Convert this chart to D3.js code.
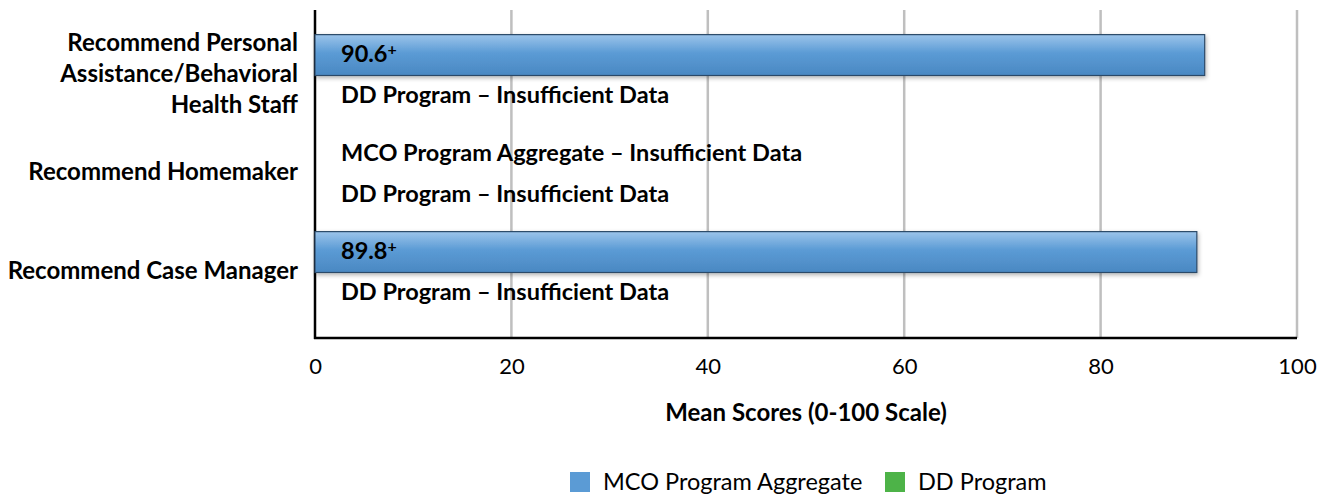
<!DOCTYPE html>
<html>
<head>
<meta charset="utf-8">
<script src="https://cdn.jsdelivr.net/npm/d3@7"></script>
<style>
  body { margin: 0; background: #fff; }
  text { font-family: Lato, "Open Sans", sans-serif; fill: #000; }
</style>
</head>
<body>
<script>
// chart data
var categories = ["Recommend Personal Assistance/Behavioral Health Staff", "Recommend Homemaker", "Recommend Case Manager"];
var categoryLines = [["Recommend Personal", "Assistance/Behavioral", "Health Staff"], ["Recommend Homemaker"], ["Recommend Case Manager"]];
var seriesNames = ["MCO Program Aggregate", "DD Program"];
var seriesColors = ["#5b9bd5", "#4db348"];
var mcoValues = [90.6, null, 89.8];
var ddValues = [null, null, null];
var xTicks = [0, 20, 40, 60, 80, 100];
var xTitle = "Mean Scores (0-100 Scale)";

var drawChart = function() {
  var width = 1328, height = 495;
  var plotLeft = 315, plotRight = 1297, plotTop = 10, plotBottom = 338;

  var svg = d3.select("body").append("svg")
    .attr("width", width)
    .attr("height", height);

  var defs = svg.append("defs");
  var grad = defs.append("linearGradient")
    .attr("id", "barGrad")
    .attr("x1", 0).attr("y1", 0).attr("x2", 0).attr("y2", 1);
  grad.append("stop").attr("offset", "0%").attr("stop-color", "#9cc4ea");
  grad.append("stop").attr("offset", "45%").attr("stop-color", "#5b9bd5");
  grad.append("stop").attr("offset", "100%").attr("stop-color", "#4a88c2");

  var shadow = defs.append("filter").attr("id", "shadow")
    .attr("x", "-5%").attr("y", "-20%").attr("width", "110%").attr("height", "160%");
  shadow.append("feDropShadow")
    .attr("dx", 1).attr("dy", 2).attr("stdDeviation", 2)
    .attr("flood-color", "#000").attr("flood-opacity", 0.3);

  var x = d3.scaleLinear().domain([0, 100]).range([plotLeft, plotRight]);
  var y = d3.scaleBand().domain(categories).range([plotTop, plotBottom])
    .paddingInner(0.17).paddingOuter(0.25);
  var ySub = d3.scaleBand().domain(seriesNames).range([0, y.bandwidth()]);

  // gridlines
  svg.selectAll("line.grid")
    .data(xTicks.slice(1))
    .enter()
    .append("line")
    .attr("class", "grid")
    .attr("x1", function(d) { return x(d); })
    .attr("x2", function(d) { return x(d); })
    .attr("y1", plotTop)
    .attr("y2", plotBottom)
    .attr("stroke", "#bfbfbf")
    .attr("stroke-width", 2.5);

  // x axis
  var xAxis = svg.append("g")
    .attr("transform", "translate(0," + plotBottom + ")")
    .call(d3.axisBottom(x).tickValues(xTicks).tickSize(0).tickPadding(20));
  xAxis.select(".domain").remove();
  xAxis.selectAll("text")
    .style("font-size", "22px")
    .style("font-family", "Lato, sans-serif")
    .attr("fill", "#000");

  // axis lines
  svg.append("line")
    .attr("x1", plotLeft).attr("x2", plotLeft).attr("y1", plotTop).attr("y2", plotBottom + 1)
    .attr("stroke", "#000").attr("stroke-width", 2.5);
  svg.append("line")
    .attr("x1", plotLeft - 1).attr("x2", plotRight).attr("y1", plotBottom).attr("y2", plotBottom)
    .attr("stroke", "#000").attr("stroke-width", 2.5);

  // y labels
  categories.forEach(function(c, i) {
    var lines = categoryLines[i];
    var lh = 31;
    var cy = y(c) + y.bandwidth() / 2 - 2;
    var t = svg.append("text")
      .attr("text-anchor", "end")
      .style("font-size", "24px")
      .style("font-weight", "bold");
    lines.forEach(function(l, j) {
      t.append("tspan")
        .attr("x", 298)
        .attr("y", cy + (j - (lines.length - 1) / 2) * lh)
        .attr("dy", "0.35em")
        .text(l);
    });
  });

  var rows = categories.map(function(c, i) {
    return [
      {cat: c, series: seriesNames[0], value: mcoValues[i]},
      {cat: c, series: seriesNames[1], value: ddValues[i]}
    ];
  });
  var flat = [].concat.apply([], rows);

  // bars
  svg.selectAll("rect.bar")
    .data(flat.filter(function(d) { return d.value != null; }))
    .enter()
    .append("rect")
    .attr("class", "bar")
    .attr("x", x(0))
    .attr("y", function(d) { return y(d.cat) + ySub(d.series); })
    .attr("width", function(d) { return x(d.value) - x(0); })
    .attr("height", ySub.bandwidth())
    .attr("fill", "url(#barGrad)")
    .attr("stroke", "#2c4a68")
    .attr("stroke-width", 1.2)
    .attr("filter", "url(#shadow)");

  // value labels / insufficient data notes
  var labels = svg.selectAll("text.val")
    .data(flat)
    .enter()
    .append("text")
    .attr("class", "val")
    .attr("x", x(0) + 26)
    .attr("y", function(d) { return y(d.cat) + ySub(d.series) + ySub.bandwidth() / 2 - 1; })
    .attr("dy", "0.35em")
    .style("font-size", "23.5px")
    .style("font-weight", "bold");
  labels.each(function(d) {
    var t = d3.select(this);
    if (d.value != null) {
      t.append("tspan").text(d3.format(".1f")(d.value));
      t.append("tspan").attr("dy", "-0.45em").style("font-size", "16px").text("+");
    } else {
      t.text(d.series + " \u2013 Insufficient Data");
    }
  });

  // axis title
  svg.append("text")
    .attr("x", (plotLeft + plotRight) / 2)
    .attr("y", 413)
    .attr("dy", "0.35em")
    .attr("text-anchor", "middle")
    .style("font-size", "24px")
    .style("font-weight", "bold")
    .text(xTitle);

  // legend
  var legendX = [570, 885];
  seriesNames.forEach(function(s, i) {
    svg.append("rect")
      .attr("x", legendX[i]).attr("y", 472)
      .attr("width", 20).attr("height", 20)
      .attr("fill", seriesColors[i]);
    svg.append("text")
      .attr("x", legendX[i] + 33).attr("y", 482)
      .attr("dy", "0.35em")
      .style("font-size", "23.5px")
      .text(s);
  });
};

drawChart();
</script>
</body>
</html>
